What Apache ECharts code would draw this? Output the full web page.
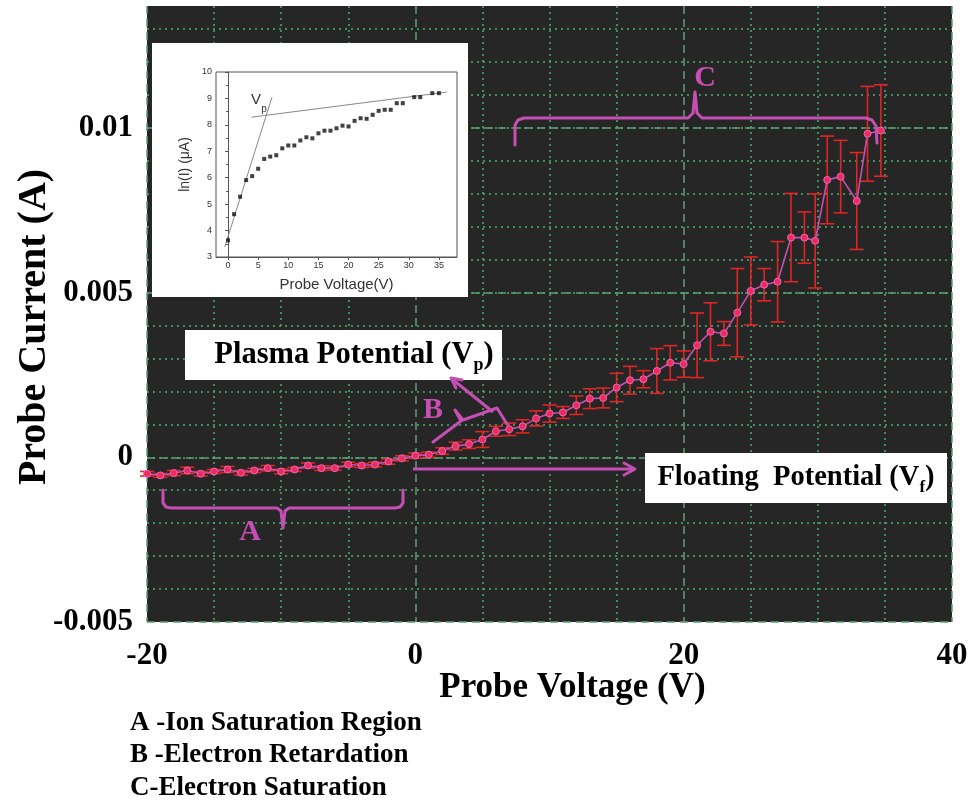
<!DOCTYPE html>
<html><head><meta charset="utf-8">
<script src="https://cdn.jsdelivr.net/npm/echarts@6/dist/echarts.min.js"></script>
<style>html,body{margin:0;padding:0;background:#fff}#c{width:973px;height:804px}</style>
</head><body><div id="c"></div>
<script>
// ---- main I-V characteristic (probe voltage in V, current in A) ----
const voltage = [-20,-19,-18,-17,-16,-15,-14,-13,-12,-11,-10,-9,-8,-7,-6,-5,-4,-3,-2,-1,
  0,1,2,3,4,5,6,7,8,9,10,11,12,13,14,15,16,17,18,19,20,21,22,23,24,25,26,27,
  28,29,29.8,30.7,31.7,32.9,33.7,34.7];
const current = [-0.00050,-0.00055,-0.00048,-0.00040,-0.00050,-0.00043,-0.00037,-0.00047,-0.00040,-0.00033,
  -0.00043,-0.00037,-0.00025,-0.00033,-0.00033,-0.00022,-0.00025,-0.00022,-0.00013,-0.00003,
  0.00005,0.00008,0.00019,0.00034,0.00040,0.00054,0.00079,0.00085,0.00094,0.00118,
  0.00133,0.00136,0.00158,0.00178,0.00180,0.00212,0.00234,0.00237,0.00262,0.00287,
  0.00283,0.00340,0.00381,0.00376,0.00439,0.00505,0.00524,0.00533,
  0.00667,0.00667,0.00657,0.00842,0.00852,0.00778,0.00982,0.00992];
const currentErr = [0.00007,0.00006,0.00008,0.00010,0.00007,0.00006,0.00009,0.00007,0.00006,0.00008,
  0.00007,0.00006,0.00008,0.00007,0.00006,0.00007,0.00006,0.00007,0.00008,0.00008,
  0.00008,0.00008,0.00010,0.00012,0.00013,0.00024,0.00015,0.00019,0.00020,0.00023,
  0.00026,0.00018,0.00028,0.00030,0.00030,0.00043,0.00042,0.00026,0.00068,0.00052,
  0.00040,0.00098,0.00088,0.00036,0.00134,0.00103,0.00049,0.00122,
  0.00134,0.00078,0.00143,0.00133,0.00110,0.00147,0.00144,0.00139];

// ---- inset: ln(I) vs probe voltage ----
const insetVoltage = [0,1,2,3,4,5,6,7,8,9,10,11,12,13,14,15,16,17,18,19,20,21,22,23,24,25,26,27,28,29,30.9,31.9,33.9,35];
const insetLnI = [3.63,4.62,5.28,5.91,6.06,6.34,6.71,6.80,6.85,7.11,7.22,7.22,7.41,7.53,7.49,7.68,7.78,7.78,7.87,7.97,
  7.94,8.15,8.25,8.23,8.38,8.53,8.57,8.57,8.82,8.82,9.05,9.05,9.20,9.20];
const fitSteep = [[-0.55,3.38],[7.3,9.05]];
const fitShallow = [[3.87,8.29],[36.3,9.24]];
const insetXTicks = [0,5,10,15,20,25,30,35];

const legendLines = ['A -Ion Saturation Region','B -Electron Retardation','C-Electron Saturation'];

const serif = '"Liberation Serif","Times New Roman",serif';
const sans = '"Liberation Sans",Arial,sans-serif';
const magenta = '#c64fb4';
const dashC = '#5f9f74';
const dotC = '#4fae72';

const chart = echarts.init(document.getElementById('c'));

function txt(x, y, text, font, fill, align, valign, extra) {
  return Object.assign({type:'text', x:x, y:y, z:20,
    style:{text:text, font:font, fill:fill, textAlign:align||'center', textVerticalAlign:valign||'middle'}}, extra||{});
}
function pl(points, z) {
  return {type:'polyline', z:z||20, shape:{points:points},
    style:{stroke:magenta, lineWidth:3, fill:null, lineJoin:'round', lineCap:'round'}};
}

const graphics = [
  {type:'rect', z:1, shape:{x:152,y:43,width:316,height:254}, style:{fill:'#fff'}},
  // Plasma potential box
  {type:'rect', z:20, shape:{x:185,y:330,width:317,height:50}, style:{fill:'#fff'}},
  {type:'text', x:354, y:355, z:21, style:{text:'{m|Plasma Potential (V}{s|p}{m|)}', textAlign:'center', textVerticalAlign:'middle',
    rich:{m:{font:'bold 30.5px '+serif, fill:'#000'}, s:{font:'bold 18px '+serif, fill:'#000', padding:[20,0,0,0]}}}},
  // Floating potential box
  {type:'rect', z:20, shape:{x:645,y:453,width:302,height:50}, style:{fill:'#fff'}},
  {type:'text', x:796, y:478, z:21, style:{text:'{m|Floating  Potential (V}{s|f}{m|)}', textAlign:'center', textVerticalAlign:'middle',
    rich:{m:{font:'bold 28.5px '+serif, fill:'#000'}, s:{font:'bold 17px '+serif, fill:'#000', padding:[19,0,0,0]}}}},
  // brace A
  pl([[163,490],[163,503],[166,507],[171,508],[277,508],[281,511],[283,528],[285,511],[289,508],[395,508],[400,507],[403,503],[403,490]]),
  txt(250,532,'A','bold 30px '+serif, magenta),
  // brace B
  pl([[433,442],[461,421],[455,410],[463,420],[497,408],[507,424]]),
  txt(433,410,'B','bold 30px '+serif, magenta),
  // arrow to plasma potential
  {type:'line', z:20, shape:{x1:493,y1:412,x2:452,y2:379}, style:{stroke:magenta, lineWidth:3}},
  pl([[462,380],[451,378],[456,388]]),
  // arrow to floating potential
  {type:'line', z:20, shape:{x1:413,y1:469,x2:634,y2:469}, style:{stroke:magenta, lineWidth:3}},
  pl([[624,463],[635,469],[624,475]]),
  // brace C
  pl([[515,145],[515,125],[518,120],[524,118],[688,118],[693,113],[695,92],[697,113],[702,118],[866,118],[872,120],[876,126],[877,143]]),
  txt(705,78,'C','bold 30px '+serif, magenta),
  // Vp in inset
  txt(256,100,'V','15px '+sans,'#333'),
  txt(264,109,'p','10px '+sans,'#333'),
];
legendLines.forEach((s,i)=>graphics.push(txt(130, 723+i*32.5, s, 'bold 27px '+serif, '#000', 'left')));

const option = {
  backgroundColor:'#fff',
  animation:false,
  grid:[
    {left:147, top:6, right:21, bottom:182, show:true, backgroundColor:'#262626', borderWidth:0, z:0, containLabel:false, outerBoundsMode:'none'},
    {left:216, top:72, width:241, height:185, show:true, backgroundColor:'rgba(0,0,0,0)', borderColor:'#555', borderWidth:1, z:3, containLabel:false, outerBoundsMode:'none'}
  ],
  xAxis:[
    {gridIndex:0, type:'value', min:-20, max:40, interval:20,
      axisLine:{show:false}, axisTick:{show:false},
      axisLabel:{margin:18, fontSize:31, fontWeight:'bold', fontFamily:serif, color:'#000'},
      splitLine:{show:true, lineStyle:{color:dashC, type:[8,5], width:1.5}},
      minorTick:{show:false, splitNumber:4},
      minorSplitLine:{show:true, lineStyle:{color:dotC, type:[2,4], width:1.5}},
      name:'Probe Voltage (V)', nameLocation:'middle', nameGap:48, nameMoveOverlap:false,
      nameTextStyle:{fontSize:35, fontWeight:'bold', fontFamily:serif, color:'#000', padding:[0,0,0,46]}},
    {gridIndex:1, type:'value', min:-2, max:38, z:3,
      axisLine:{show:true, lineStyle:{color:'#555'}},
      axisTick:{show:true, customValues:insetXTicks, length:3, lineStyle:{color:'#555'}},
      axisLabel:{customValues:insetXTicks, fontSize:9, color:'#333', margin:4, fontFamily:sans},
      splitLine:{show:false},
      name:'Probe Voltage(V)', nameLocation:'middle', nameGap:20,
      nameTextStyle:{fontSize:15, color:'#333', fontFamily:sans}}
  ],
  yAxis:[
    {gridIndex:0, type:'value', min:-0.005, max:0.0137, interval:0.005,
      axisLine:{show:false}, axisTick:{show:false},
      axisLabel:{margin:14, fontSize:31, fontWeight:'bold', fontFamily:serif, color:'#000', showMaxLabel:false},
      splitLine:{show:true, showMaxLine:false, lineStyle:{color:dashC, type:[8,5], width:1.5}},
      name:'Probe Current (A)', nameLocation:'middle', nameRotate:90, nameGap:92, nameMoveOverlap:false,
      nameTextStyle:{fontSize:40, fontWeight:'bold', fontFamily:serif, color:'#000', padding:[0,26,0,0]}},
    {gridIndex:0, type:'value', min:-0.005, max:0.0137, interval:0.001,
      axisLine:{show:false}, axisTick:{show:false}, axisLabel:{show:false},
      splitLine:{show:true, showMinLine:false, showMaxLine:false, lineStyle:{color:dotC, type:[2,4], width:1.5}}},
    {gridIndex:1, type:'value', min:3, max:10, interval:1, z:3,
      axisLine:{show:true, lineStyle:{color:'#555'}},
      axisTick:{show:true, length:3, lineStyle:{color:'#555'}},
      minorTick:{show:true, splitNumber:2, length:2, lineStyle:{color:'#555'}},
      axisLabel:{fontSize:9, color:'#333', margin:4, fontFamily:sans},
      splitLine:{show:false},
      name:'ln(I) (\u03bcA)', nameLocation:'middle', nameRotate:90, nameGap:24,
      nameTextStyle:{fontSize:14, color:'#333', fontFamily:sans}}
  ],
  series:[
    {type:'custom', xAxisIndex:0, yAxisIndex:0, z:2,
      data: voltage.map((v,i)=>[v, current[i]-currentErr[i], current[i]+currentErr[i]]),
      encode:{x:0, y:[1,2]},
      renderItem:function(params, api){
        const x = api.value(0);
        const lo = api.coord([x, api.value(1)]);
        const hi = api.coord([x, api.value(2)]);
        const w = 7;
        const st = {stroke:'#e02525', lineWidth:1.6};
        return {type:'group', children:[
          {type:'line', shape:{x1:hi[0],y1:hi[1],x2:lo[0],y2:lo[1]}, style:st},
          {type:'line', shape:{x1:hi[0]-w,y1:hi[1],x2:hi[0]+w,y2:hi[1]}, style:st},
          {type:'line', shape:{x1:lo[0]-w,y1:lo[1],x2:lo[0]+w,y2:lo[1]}, style:st}
        ]};
      }},
    {type:'line', xAxisIndex:0, yAxisIndex:0, z:3,
      data: voltage.map((v,i)=>[v, current[i]]),
      symbol:'circle', symbolSize:7,
      lineStyle:{color:'#c650b0', width:1.6},
      itemStyle:{color:'#f02a5c', borderColor:'#e46ab8', borderWidth:1}},
    {type:'line', xAxisIndex:1, yAxisIndex:2, z:4, data:fitSteep, symbol:'none', lineStyle:{color:'#888', width:1}},
    {type:'line', xAxisIndex:1, yAxisIndex:2, z:4, data:fitShallow, symbol:'none', lineStyle:{color:'#888', width:1}},
    {type:'scatter', xAxisIndex:1, yAxisIndex:2, z:5,
      data: insetVoltage.map((v,i)=>[v, insetLnI[i]]),
      symbol:'rect', symbolSize:4, itemStyle:{color:'#111'}}
  ],
  graphic: graphics
};
chart.setOption(option);
</script></body></html>
